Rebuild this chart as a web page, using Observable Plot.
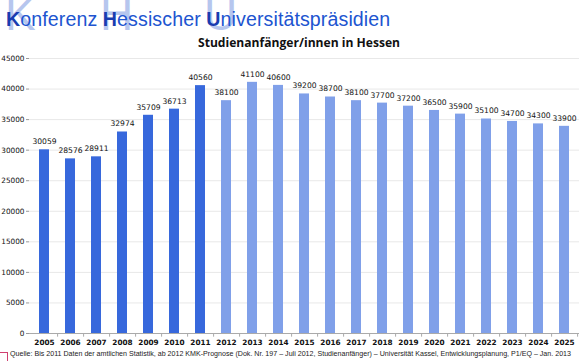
<!DOCTYPE html>
<html><head><meta charset="utf-8">
<script src="https://cdn.jsdelivr.net/npm/d3@7"></script>
<script src="https://cdn.jsdelivr.net/npm/@observablehq/plot@0.6"></script>
<style>
body{margin:0;background:#fff;width:580px;height:363px;overflow:hidden;position:relative;font-family:"Liberation Sans",Arial,sans-serif}
#hdr{position:relative;height:52px;width:580px}
.big{position:absolute;top:-9px;font-family:"Liberation Sans",Arial,sans-serif;font-size:46px;color:#b6c6ee;line-height:1}
#title{position:absolute;left:6px;top:8px;font-size:19.6px;letter-spacing:0.1px;color:#2054d0;white-space:nowrap}
#title b{color:#1a3cb0;font-weight:bold}
#sub{position:absolute;left:198px;top:34px;font-family:"Open Sans",sans-serif;font-weight:bold;font-size:12.1px;color:#111;white-space:nowrap}
#foot{position:absolute;left:10px;top:350px;font-size:7.1px;color:#222;white-space:nowrap}
#mark{position:absolute;left:0;top:352px;width:7px;height:8px;border-top:1px solid #d04070;border-right:1px solid #d04070}
</style></head>
<body>
<div id="hdr">
<div class="big" style="left:5px">K</div>
<div class="big" style="left:100px">H</div>
<div class="big" style="left:204px">U</div>
<div id="title"><b>K</b>onferenz <b>H</b>essischer <b>U</b>niversitätspräsidien</div>
<div id="sub">Studienanfänger/innen in Hessen</div>
</div>
<div id="chart"></div>
<div id="mark"></div>
<div id="foot">Quelle: Bis 2011 Daten der amtlichen Statistik, ab 2012 KMK-Prognose (Dok. Nr. 197 – Juli 2012, Studienanfänger) – Universität Kassel, Entwicklungsplanung, P1/EQ – Jan. 2013</div>
<script>
const years = ["2005","2006","2007","2008","2009","2010","2011","2012","2013","2014","2015","2016","2017","2018","2019","2020","2021","2022","2023","2024","2025"];
const values = [30059,28576,28911,32974,35709,36713,40560,38100,41100,40600,39200,38700,38100,37700,37200,36500,35900,35100,34700,34300,33900];
const kinds = ["Statistik","Statistik","Statistik","Statistik","Statistik","Statistik","Statistik","Prognose","Prognose","Prognose","Prognose","Prognose","Prognose","Prognose","Prognose","Prognose","Prognose","Prognose","Prognose","Prognose","Prognose"];
const yTicks = [0,5000,10000,15000,20000,25000,30000,35000,40000,45000];
const data = years.map((y,i)=>({year:y, value:values[i], kind:kinds[i]}));
const fontStyle = {fontFamily:"DejaVu Sans, sans-serif", fontSize:"7.3px", color:"#111"};
const chart = Plot.plot({
  width:580, height:296,
  marginTop:6, marginBottom:15, marginLeft:29, marginRight:1,
  style: fontStyle,
  x:{domain:years, paddingInner:0.6, paddingOuter:0.3, label:null},
  y:{domain:[0,45000], label:null},
  color:{domain:["Statistik","Prognose"], range:["#3768dc","#80a0e9"]},
  marks:[
    Plot.gridY(yTicks,{stroke:"#e8e8e8", strokeOpacity:1}),
    Plot.barY(data,{x:"year", y:"value", fill:"kind"}),
    Plot.text(data,{x:"year", y:"value", text:d=>String(d.value), dy:-8, fontSize:7.6, fill:"#111"}),
    Plot.axisY(yTicks,{tickSize:3, tickPadding:2, stroke:"#999", tickFormat:d=>String(d), fontSize:7.3}),
    Plot.ruleX([0],{stroke:"#aaa", frameAnchor:"left"}),
    Plot.ruleY([0],{stroke:"#aaa"}),
    Plot.axisX({tickSize:0, tickPadding:6, fontSize:7.3, fontWeight:"bold"}),
    Plot.ruleX(years,{x:d=>d, y1:0, y2:-600, dx:13.1, stroke:"#aaa"})
  ]
});
document.getElementById("chart").appendChild(chart);
</script>
</body></html>
